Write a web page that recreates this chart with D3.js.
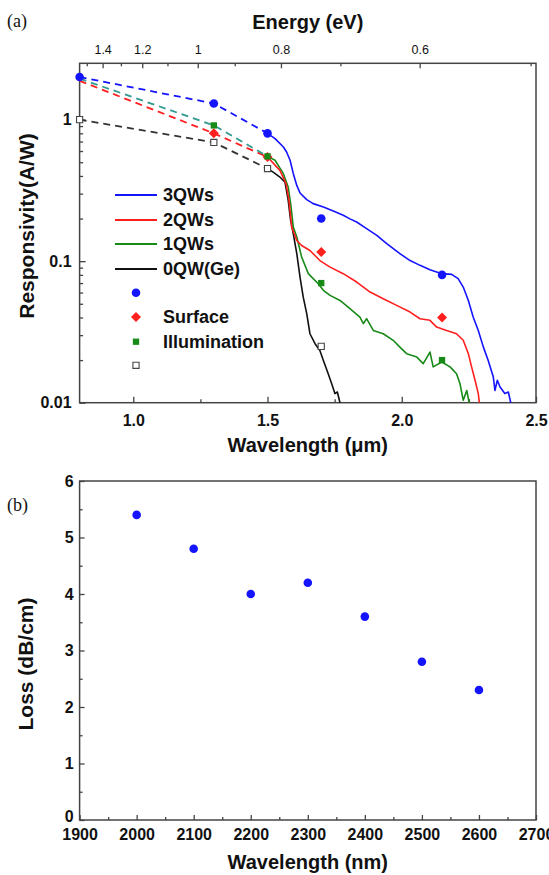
<!DOCTYPE html>
<html><head><meta charset="utf-8">
<script src="https://cdn.jsdelivr.net/npm/d3@7"></script>
<style>
body{margin:0;background:#fff}
svg{display:block}
text{font-family:Arial,"Liberation Sans",sans-serif}
</style>
</head><body>
<svg id="c" width="549" height="875"></svg>
<script>
// ---------- Panel (a) data ----------
const topEnergyMajor = [1.4, 1.2, 1, 0.8, 0.6];
const topEnergyMinor = [1.5, 1.3, 1.1, 0.9, 0.7, 0.5];
const bottomTicksA = [1.0, 1.5, 2.0, 2.5];
const bottomMinorA = [1.25, 1.75, 2.25];
const leftTicksA = [0.01, 0.1, 1];

const curve3QW = [[1.50,0.80],[1.528,0.734],[1.559,0.640],[1.571,0.590],[1.584,0.516],[1.596,0.415],[1.609,0.343],[1.621,0.303],[1.646,0.272],[1.670,0.255],[1.708,0.241],[1.745,0.226],[1.782,0.211],[1.807,0.199],[1.832,0.189],[1.869,0.170],[1.907,0.152],[1.944,0.133],[1.993,0.113],[2.031,0.101],[2.068,0.0934],[2.105,0.0871],[2.149,0.0816],[2.186,0.0807],[2.210,0.0752],[2.229,0.0656],[2.248,0.0528],[2.266,0.0403],[2.285,0.0324],[2.304,0.0247],[2.322,0.0199],[2.341,0.0152],[2.347,0.0122],[2.356,0.0144],[2.366,0.0129],[2.384,0.0116],[2.397,0.0119],[2.406,0.0100]];
const curve2QW = [[1.50,0.544],[1.546,0.438],[1.569,0.353],[1.580,0.269],[1.590,0.174],[1.609,0.140],[1.627,0.129],[1.658,0.119],[1.695,0.101],[1.733,0.0908],[1.782,0.0816],[1.832,0.0712],[1.882,0.0605],[1.931,0.0543],[1.981,0.0487],[2.031,0.0437],[2.068,0.0392],[2.105,0.0382],[2.130,0.0342],[2.167,0.0324],[2.204,0.0307],[2.229,0.0276],[2.248,0.0222],[2.260,0.0179],[2.273,0.0144],[2.285,0.0116],[2.289,0.0100]];
const curve1QW = [[1.50,0.550],[1.528,0.516],[1.559,0.415],[1.577,0.334],[1.587,0.248],[1.596,0.174],[1.609,0.148],[1.627,0.107],[1.652,0.0816],[1.689,0.0693],[1.708,0.0622],[1.733,0.0573],[1.770,0.0528],[1.807,0.0462],[1.844,0.0403],[1.857,0.0362],[1.869,0.0392],[1.894,0.0324],[1.931,0.0307],[1.968,0.0276],[1.993,0.0247],[2.018,0.0222],[2.056,0.0210],[2.080,0.0189],[2.105,0.0228],[2.117,0.0179],[2.149,0.0194],[2.180,0.0179],[2.204,0.0160],[2.217,0.0136],[2.229,0.0104],[2.242,0.0122],[2.251,0.0100]];
const curve0QW = [[1.50,0.451],[1.521,0.426],[1.546,0.393],[1.565,0.362],[1.577,0.269],[1.586,0.194],[1.596,0.156],[1.609,0.113],[1.621,0.0772],[1.633,0.0557],[1.646,0.0426],[1.658,0.0307],[1.677,0.0261],[1.695,0.0234],[1.708,0.0199],[1.726,0.0160],[1.739,0.0136],[1.751,0.0116],[1.760,0.0119],[1.770,0.0100]];

const dash3QW = [[0.8,2.0],[1.3,1.3],[1.5,0.80]];
const dash2QW = [[0.8,1.88],[1.3,0.80],[1.5,0.544]];
const dash1QW = [[0.8,1.95],[1.3,0.91],[1.5,0.55]];
const dash0QW = [[0.8,1.0],[1.3,0.69],[1.5,0.451]];

const pts3QW = [[0.8,2.0],[1.3,1.3],[1.5,0.80],[1.7,0.20],[2.15,0.08]];
const pts2QW = [[1.3,0.80],[1.5,0.544],[1.7,0.116],[2.15,0.04]];
const pts1QW = [[1.3,0.91],[1.5,0.55],[1.7,0.07],[2.15,0.02]];
const pts0QW = [[0.8,1.0],[1.3,0.69],[1.5,0.451],[1.7,0.025]];

const lineLabels = ["3QWs","2QWs","1QWs","0QW(Ge)"];
const markerLabels = ["","Surface","Illumination",""];

// ---------- Panel (b) data ----------
const lossWavelength = [2000,2100,2200,2300,2400,2500,2600];
const lossValues = [5.4,4.8,4.0,4.2,3.6,2.8,2.3];
const bottomTicksB = [1900,2000,2100,2200,2300,2400,2500,2600,2700];
const bottomMinorB = [1950,2050,2150,2250,2350,2450,2550,2650];
const leftTicksB = [0,1,2,3,4,5,6];
const leftMinorB = [0.5,1.5,2.5,3.5,4.5,5.5];

// ---------- styles ----------
const C = {blue:"#1414ff", red:"#ff1f1f", green:"#178a17", black:"#111", teal:"#2f9a8e", dblack:"#333", axis:"#444"};
const svg = d3.select("#c");

// ================= Panel (a) =================
const L = 79.6, R = 536;
const x = d3.scaleLinear().domain([0.8,2.5]).range([L,R]);
const y = d3.scaleLog().domain([0.01,2.5]).range([402.7,63.3]);
const ga = svg.append("g");

function styleAxis(g, fs, bold){
  g.select(".domain").remove();
  g.selectAll("line").attr("stroke",C.axis).attr("stroke-width",1.3);
  g.selectAll("text").attr("fill","#111").style("font-size",fs+"px").style("font-weight",bold?"bold":"normal")
   .style("font-family","Arial, 'Liberation Sans', sans-serif");
}

// frame
ga.append("rect").attr("x",L).attr("y",y(2.5)).attr("width",R-L).attr("height",y(0.01)-y(2.5))
  .attr("fill","none").attr("stroke",C.axis).attr("stroke-width",1.5);

// bottom axis
ga.append("g").attr("transform",`translate(0,${y(0.01)})`)
  .call(d3.axisBottom(x).tickValues(bottomTicksA).tickFormat(d3.format(".1f")).tickSizeInner(-6).tickSizeOuter(0).tickPadding(12))
  .call(g=>styleAxis(g,16,true));
ga.append("g").attr("transform",`translate(0,${y(0.01)})`)
  .call(d3.axisBottom(x).tickValues(bottomMinorA).tickFormat("").tickSizeInner(-3.5).tickSizeOuter(0))
  .call(g=>styleAxis(g,16,true));
// top axis (energy)
const ev = 1.24;
ga.append("g").attr("transform",`translate(0,${y(2.5)})`)
  .call(d3.axisTop(x).tickValues(topEnergyMajor.map(e=>ev/e)).tickFormat(d=>d3.format("~g")(+(ev/d).toFixed(2))).tickSizeInner(-5).tickSizeOuter(0).tickPadding(9))
  .call(g=>styleAxis(g,12.5,false));
ga.append("g").attr("transform",`translate(0,${y(2.5)})`)
  .call(d3.axisTop(x).tickValues(topEnergyMinor.map(e=>ev/e)).tickFormat("").tickSizeInner(-3).tickSizeOuter(0))
  .call(g=>styleAxis(g,12,false));
// left axis (log)
const minorLog = [];
[0.01,0.1,1].forEach(dec=>{for(let k=2;k<=9;k++){const v=dec*k; if(v<=2.5) minorLog.push(v);}});
ga.append("g").attr("transform",`translate(${L},0)`)
  .call(d3.axisLeft(y).tickValues(leftTicksA).tickFormat(d=>d===1?"1":String(d)).tickSizeInner(-6).tickSizeOuter(0).tickPadding(8))
  .call(g=>styleAxis(g,16,true));
ga.append("g").attr("transform",`translate(${L},0)`)
  .call(d3.axisLeft(y).tickValues(minorLog).tickFormat("").tickSizeInner(-3.5).tickSizeOuter(0))
  .call(g=>styleAxis(g,16,true));

// titles
ga.append("text").attr("x",(L+R)/2).attr("y",29).attr("text-anchor","middle")
  .style("font-size","20px").style("font-weight","bold").attr("fill","#111").text("Energy (eV)");
ga.append("text").attr("x",(L+R)/2).attr("y",452).attr("text-anchor","middle")
  .style("font-size","20px").style("font-weight","bold").attr("fill","#111").text("Wavelength (μm)");
ga.append("text").attr("transform","translate(27,226) rotate(-90)").attr("dy","0.35em").attr("text-anchor","middle")
  .style("font-size","21px").style("font-weight","bold").attr("fill","#111").text("Responsivity(A/W)");
svg.append("text").attr("x",7).attr("y",27).style("font-family","'Liberation Serif','Times New Roman',serif")
  .style("font-size","18px").attr("fill","#111").text("(a)");

const line = d3.line().x(d=>x(d[0])).y(d=>y(d[1]));
// dashed
[[dash0QW,C.dblack],[dash2QW,C.red],[dash1QW,C.teal],[dash3QW,C.blue]].forEach(([d,c])=>{
  ga.append("path").datum(d).attr("d",line).attr("fill","none").attr("stroke",c).attr("stroke-width",1.8).attr("stroke-dasharray","7,5");
});
// solid
[[curve0QW,C.black],[curve1QW,C.green],[curve2QW,C.red],[curve3QW,C.blue]].forEach(([d,c])=>{
  ga.append("path").datum(d).attr("d",line).attr("fill","none").attr("stroke",c).attr("stroke-width",1.6).attr("stroke-linejoin","round");
});

// markers
function drawMarker(g, kind, cx, cy){
  if(kind===0){ g.append("circle").attr("cx",cx).attr("cy",cy).attr("r",4.3).attr("fill",C.blue); }
  else if(kind===1){ g.append("path").attr("d",d3.symbol(d3.symbolSquare,50)()).attr("transform",`translate(${cx},${cy}) rotate(45)`).attr("fill",C.red); }
  else if(kind===2){ g.append("path").attr("d",d3.symbol(d3.symbolSquare,40)()).attr("transform",`translate(${cx},${cy})`).attr("fill",C.green); }
  else { g.append("path").attr("d",d3.symbol(d3.symbolSquare,38)()).attr("transform",`translate(${cx},${cy})`).attr("fill","#fff").attr("stroke","#444").attr("stroke-width",1.1); }
}
[pts3QW,pts2QW,pts1QW,pts0QW].forEach((arr,k)=>arr.forEach(d=>drawMarker(ga,k,x(d[0]),y(d[1]))));

// legend
const lineColors=[C.blue,C.red,C.green,C.black];
const legY=[195,220,244,269,292.7,317,341.7,365.3];
lineLabels.forEach((t,i)=>{
  ga.append("line").attr("x1",115).attr("x2",157).attr("y1",legY[i]).attr("y2",legY[i]).attr("stroke",lineColors[i]).attr("stroke-width",1.8);
  ga.append("text").attr("x",163).attr("y",legY[i]).attr("dy","0.35em").style("font-size","18px").style("font-weight","bold").attr("fill","#111").text(t);
});
markerLabels.forEach((t,i)=>{
  drawMarker(ga,i,136,legY[4+i]);
  if(t) ga.append("text").attr("x",163).attr("y",legY[4+i]).attr("dy","0.35em").style("font-size","18px").style("font-weight","bold").attr("fill","#111").text(t);
});

// ================= Panel (b) =================
const xb = d3.scaleLinear().domain([1900,2700]).range([L,R]);
const yb = d3.scaleLinear().domain([0,6]).range([820,481]);
const gb = svg.append("g");
gb.append("rect").attr("x",L).attr("y",yb(6)).attr("width",R-L).attr("height",yb(0)-yb(6))
  .attr("fill","none").attr("stroke",C.axis).attr("stroke-width",1.5);
gb.append("g").attr("transform",`translate(0,${yb(0)})`)
  .call(d3.axisBottom(xb).tickValues(bottomTicksB).tickFormat(d3.format("d")).tickSizeInner(-5).tickSizeOuter(0).tickPadding(9))
  .call(g=>styleAxis(g,16,true));
gb.append("g").attr("transform",`translate(0,${yb(0)})`)
  .call(d3.axisBottom(xb).tickValues(bottomMinorB).tickFormat("").tickSizeInner(-3).tickSizeOuter(0))
  .call(g=>styleAxis(g,16,true));
gb.append("g").attr("transform",`translate(${L},0)`)
  .call(d3.axisLeft(yb).tickValues(leftTicksB).tickFormat(d3.format("d")).tickSizeInner(-5).tickSizeOuter(0).tickPadding(6))
  .call(g=>styleAxis(g,16,true))
  .call(g=>g.selectAll(".tick").filter(d=>d===0).select("text").attr("dy","0.1em"));
gb.append("g").attr("transform",`translate(${L},0)`)
  .call(d3.axisLeft(yb).tickValues(leftMinorB).tickFormat("").tickSizeInner(-3).tickSizeOuter(0))
  .call(g=>styleAxis(g,16,true));

gb.selectAll("circle.loss").data(lossWavelength).join("circle").attr("class","loss")
  .attr("cx",(d)=>xb(d)).attr("cy",(d,i)=>yb(lossValues[i])).attr("r",4.3).attr("fill",C.blue);

gb.append("text").attr("x",(L+R)/2).attr("y",869).attr("text-anchor","middle")
  .style("font-size","20px").style("font-weight","bold").attr("fill","#111").text("Wavelength (nm)");
gb.append("text").attr("transform","translate(26,664) rotate(-90)").attr("dy","0.35em").attr("text-anchor","middle")
  .style("font-size","21px").style("font-weight","bold").attr("fill","#111").text("Loss (dB/cm)");
svg.append("text").attr("x",7).attr("y",511).style("font-family","'Liberation Serif','Times New Roman',serif")
  .style("font-size","18px").attr("fill","#111").text("(b)");
</script>
</body></html>
